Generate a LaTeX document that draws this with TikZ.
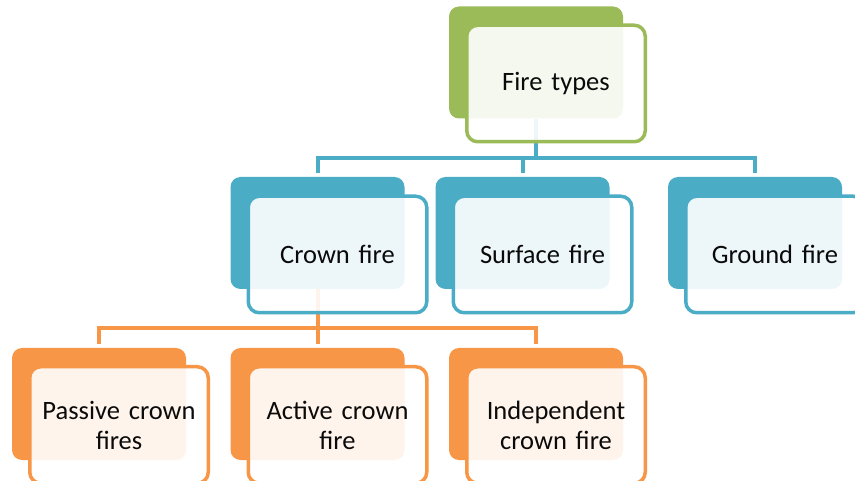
\documentclass[tikz,border=0pt]{standalone}
\usepackage{fontspec}
\setmainfont{Carlito}
\definecolor{cgreen}{HTML}{9BBB59}
\definecolor{cblue}{HTML}{4BACC6}
\definecolor{corange}{HTML}{F79646}
\definecolor{ctext}{HTML}{0A0A0A}
\begin{document}
\begin{tikzpicture}[x=1pt,y=-1pt,
  backbox/.style={rectangle, rounded corners=10pt, minimum width=174pt, minimum height=112pt, inner sep=0pt, draw=none, fill=#1},
  frontbox/.style={rectangle, rounded corners=11pt, minimum width=178.5pt, minimum height=116.5pt, line width=3.5pt, draw=#1, fill=white, fill opacity=0.9, draw opacity=1, text opacity=1, inner sep=0pt, text width=175pt, align=center, font=\fontsize{26.5}{30}\selectfont, text=ctext},
  conn/.style={line width=4pt, draw=#1}]
\useasboundingbox (0,0) rectangle (855,481);
% back boxes
\node[backbox=cgreen]  (ftb) at (536,62.5) {};
\node[backbox=cblue]   (crb) at (317.5,233) {};
\node[backbox=cblue]   (sfb) at (522.5,233) {};
\node[backbox=cblue]   (grb) at (755,233) {};
\node[backbox=corange] (pcb) at (99,404) {};
\node[backbox=corange] (acb) at (317.5,404) {};
\node[backbox=corange] (icb) at (536,404) {};
% connectors
\coordinate (busA) at (0,158);
\coordinate (busB) at (0,328.5);
\draw[conn=cblue] (ftb.south) -- (ftb.south |- busA);
\draw[conn=cblue, shorten <=4pt, shorten >=4pt] (crb.north) -- (crb.north |- busA) -- (grb.north |- busA) -- (grb.north);
\draw[conn=cblue, shorten <=4pt] (sfb.north) -- (sfb.north |- busA);
\draw[conn=corange] (crb.south) -- (crb.south |- busB);
\draw[conn=corange, shorten <=4pt, shorten >=4pt] (pcb.north) -- (pcb.north |- busB) -- (icb.north |- busB) -- (icb.north);
\draw[conn=corange, shorten <=4pt] (acb.north) -- (acb.north |- busB);
% front boxes
\node[frontbox=cgreen]  (ft) at (556,83.5) {Fire types};
\node[frontbox=cblue]   (cr) at (337.5,254.5) {Crown fire};
\node[frontbox=cblue]   (sf) at (542.5,254.5) {Surface fire};
\node[frontbox=cblue]   (gr) at (775,254.5) {Ground fire};
\node[frontbox=corange] (pc) at (119,425) {Passive crown\\fires};
\node[frontbox=corange] (ac) at (337.5,425) {Active crown\\fire};
\node[frontbox=corange] (ic) at (556,425) {Independent\\crown fire};
\end{tikzpicture}
\end{document}
